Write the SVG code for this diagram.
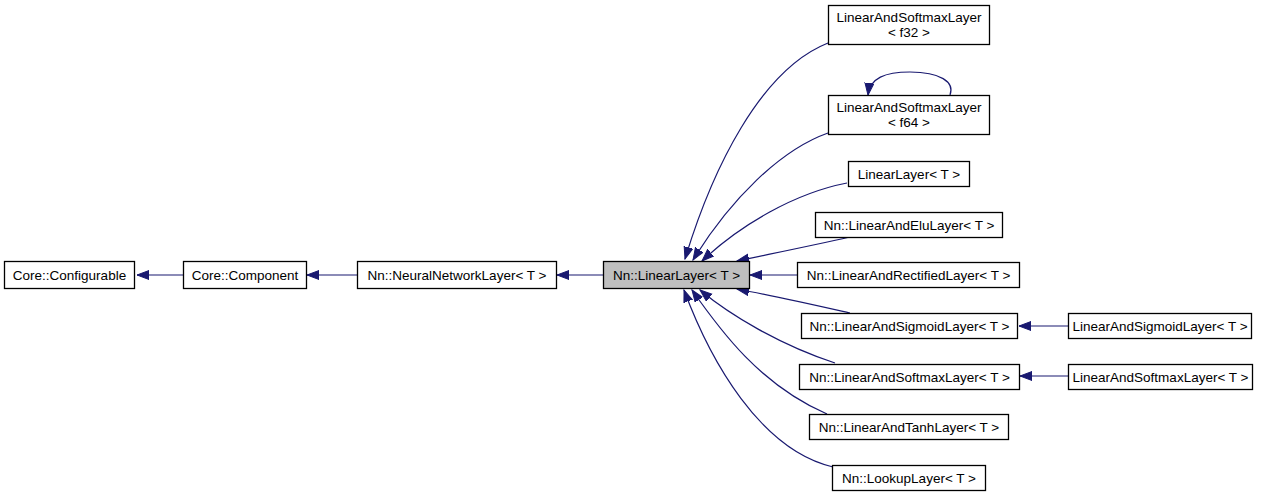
<svg xmlns="http://www.w3.org/2000/svg" width="1267" height="497" viewBox="0 0 1267 497">
<style>
.box{fill:#ffffff;stroke:#000000;stroke-width:1.3}
.cur{fill:#bfbfbf;stroke:#000000;stroke-width:1.3}
.lbl{font-family:"Liberation Sans",Arial,sans-serif;font-size:13.5px;fill:#000000;text-anchor:middle}
.edge{fill:none;stroke:#191970;stroke-width:1.2;marker-end:url(#ah)}
</style>
<defs>
<marker id="ah" markerUnits="userSpaceOnUse" markerWidth="13" markerHeight="11" refX="12" refY="5" orient="auto">
<path d="M0,0.5 L12,5 L0,9.5 z" fill="#191970" stroke="#191970" stroke-width="1"/>
</marker>
</defs>
<rect width="1267" height="497" fill="#ffffff"/>
<g id="connectors">
<path class="edge" d="M183,275 H137"/>
<path class="edge" d="M357,275 H307"/>
<path class="edge" d="M603,275 H557"/>
<path class="edge" d="M828,43 C760,70 712,170 685,259"/>
<path class="edge" d="M828,133 C780,150 730,200 693,260"/>
<path class="edge" d="M950,95 C955,82 940,72 910,72 C885,72 870,78 868,95"/>
<path class="edge" d="M847,183 C795,193 740,225 702,261"/>
<path class="edge" d="M850,237 C810,246 775,253 737,261"/>
<path class="edge" d="M797,275 H750"/>
<path class="edge" d="M850,313 C810,304 775,296 737,289"/>
<path class="edge" d="M835,363 C780,345 730,315 700,290"/>
<path class="edge" d="M827,414 C760,385 720,330 692,290"/>
<path class="edge" d="M833,467 C760,450 710,360 684,290"/>
<path class="edge" d="M1068,326 H1019"/>
<path class="edge" d="M1068,376 H1020"/>
</g>
<g id="n_configurable"><rect class="box" x="4.5" y="261.5" width="130" height="27"/><text class="lbl" x="69.5" y="279.5">Core::Configurable</text></g>
<g id="n_component"><rect class="box" x="183.5" y="261.5" width="123" height="27"/><text class="lbl" x="245" y="279.5">Core::Component</text></g>
<g id="n_nnlayer"><rect class="box" x="357.5" y="261.5" width="199" height="27"/><text class="lbl" x="457" y="279.5">Nn::NeuralNetworkLayer&lt; T &gt;</text></g>
<g id="n_linearlayer"><rect class="cur" x="603.5" y="261.5" width="146" height="27"/><text class="lbl" x="676.5" y="279.5">Nn::LinearLayer&lt; T &gt;</text></g>
<g id="n_f32"><rect class="box" x="828.5" y="5.5" width="161" height="39"/><text class="lbl" x="909" y="22">LinearAndSoftmaxLayer</text><text class="lbl" x="909" y="37">&lt; f32 &gt;</text></g>
<g id="n_f64"><rect class="box" x="828.5" y="95.5" width="161" height="39"/><text class="lbl" x="909" y="112">LinearAndSoftmaxLayer</text><text class="lbl" x="909" y="127">&lt; f64 &gt;</text></g>
<g id="n_linlayer"><rect class="box" x="848.5" y="161.5" width="121" height="25"/><text class="lbl" x="909" y="178.5">LinearLayer&lt; T &gt;</text></g>
<g id="n_elu"><rect class="box" x="815.5" y="212.5" width="187" height="25"/><text class="lbl" x="909" y="229.5">Nn::LinearAndEluLayer&lt; T &gt;</text></g>
<g id="n_rect"><rect class="box" x="797.5" y="262.5" width="222" height="25"/><text class="lbl" x="908.5" y="279.5">Nn::LinearAndRectifiedLayer&lt; T &gt;</text></g>
<g id="n_sigmoid"><rect class="box" x="801.5" y="313.5" width="216" height="25"/><text class="lbl" x="909.5" y="330.5">Nn::LinearAndSigmoidLayer&lt; T &gt;</text></g>
<g id="n_softmax"><rect class="box" x="799.5" y="364.5" width="220" height="25"/><text class="lbl" x="909.5" y="381.5">Nn::LinearAndSoftmaxLayer&lt; T &gt;</text></g>
<g id="n_tanh"><rect class="box" x="809.5" y="414.5" width="199" height="25"/><text class="lbl" x="909" y="431.5">Nn::LinearAndTanhLayer&lt; T &gt;</text></g>
<g id="n_lookup"><rect class="box" x="832.5" y="465.5" width="153" height="25"/><text class="lbl" x="909" y="482.5">Nn::LookupLayer&lt; T &gt;</text></g>
<g id="n_sigmoid2"><rect class="box" x="1068.5" y="313.5" width="183" height="25"/><text class="lbl" x="1160" y="330.5">LinearAndSigmoidLayer&lt; T &gt;</text></g>
<g id="n_softmax2"><rect class="box" x="1068.5" y="364.5" width="184" height="25"/><text class="lbl" x="1160.5" y="381.5">LinearAndSoftmaxLayer&lt; T &gt;</text></g>
</svg>
